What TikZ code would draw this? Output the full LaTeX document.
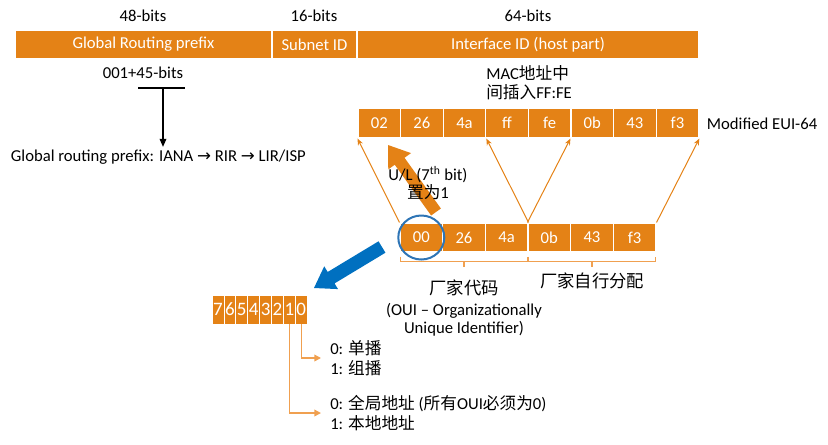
\documentclass[tikz,border=0pt]{standalone}
\usepackage{fontspec}
\setmainfont{Carlito}
\newfontfamily\cjk{Noto Sans CJK SC}
\newfontfamily\sym{DejaVu Sans}
\usetikzlibrary{arrows.meta,calc}
\definecolor{org}{RGB}{228,130,22}
\definecolor{lorg}{RGB}{240,160,80}
\definecolor{blu}{RGB}{0,112,192}
\definecolor{cblu}{RGB}{46,117,182}
\begin{document}
\begin{tikzpicture}[x=0.75pt,y=-0.75pt,
  txt/.style={font=\fontsize{12.5}{15}\selectfont,inner sep=2pt},
  cell/.style 2 args={minimum width=#1*0.75pt,minimum height=#2*0.75pt},
  obox/.style={fill=org,draw=white,line width=0.8pt,text=white,inner sep=0pt,font=\fontsize{12.5}{14}\selectfont},
  bbox/.style={fill=org,draw=white,line width=0.6pt,text=white,inner sep=0pt,font=\fontsize{14.25}{16}\selectfont,cell={11.9}{29}},
  thin/.style={draw=org,line width=0.75pt,-{Stealth[length=5pt,width=4pt]}},
  brc/.style={draw=lorg,line width=0.9pt},
  bitln/.style={draw=lorg,line width=1.1pt,-{Triangle[length=5pt,width=5pt]}},
  big/.style={font=\fontsize{13}{15}\selectfont,inner sep=1pt}]
\useasboundingbox (0,0) rectangle (828,444);

% top bar
\node[obox,cell={257}{29}] (grp) at (143.5,44.5) {Global Routing prefix};
\node[obox,cell={85}{29}] (sub) at (314.5,44.5) {Subnet ID};
\node[obox,cell={342}{29}] (iid) at (528,44.5) {Interface ID (host part)};
\node[txt] (l48) at (143,16) {48-bits};
\node[txt] (l16) at (314,16) {16-bits};
\node[txt] (l64) at (528,16) {64-bits};

% global routing prefix
\node[txt] (p45) at (143,73) {001+45-bits};
\coordinate (ula) at (138,88);
\coordinate (ulb) at (185,88);
\draw[line width=1.6pt] (ula) -- (ulb);
\coordinate (ulm) at (163,88);
\node[txt,anchor=west] (grt) at (8,157) {Global routing prefix: IANA {\sym →} RIR {\sym →} LIR/ISP};
\draw[line width=1pt,-{Triangle[length=6pt,width=5pt]}] (ulm) -- (ulm |- grt.north);

% MAC note
\node[txt,anchor=west,align=left,inner sep=0pt] (mac) at (486,82.5) {MAC{\cjk 地址中}\\[-1.2pt]{\cjk 间插入}FF:FE};

% EUI-64 boxes
\foreach \t [count=\i from 0] in {02,26,4a,ff,fe,0b,43,f3}
  \node[obox,cell={42.6}{30}] (e\i) at ({379.3+42.6*\i},123) {\t};
\node[txt,anchor=west] (eui) at (704,123.5) {Modified EUI-64};

% MAC boxes
\foreach \t [count=\i from 0] in {00,26,4a,0b,43,f3}
  \node[obox,cell={42.67}{29}] (m\i) at ({421.3+42.67*\i},237.5) {\t};

% mapping lines
\draw[thin] (m0.north west) -- (e0.south west);
\draw[thin] (m2.north east) -- (e2.south east);
\draw[thin] (m3.north west) -- (e5.south west);
\draw[thin] (m5.north east) -- (e7.south east);

% thick orange arrow
\coordinate (oa) at (436,212);
\coordinate (ob) at (388,145);
\coordinate (oc) at ($(ob)!15pt!(oa)$);
\fill[org] ($(oa)!4.5pt!90:(ob)$) -- ($(oc)!4.5pt!90:(ob)$) -- ($(oc)!10.5pt!90:(ob)$) -- (ob)
  -- ($(oc)!10.5pt!-90:(ob)$) -- ($(oc)!4.5pt!-90:(ob)$) -- ($(oa)!4.5pt!-90:(ob)$) -- cycle;
\node[txt,align=center,inner sep=0pt] (ul) at (428,183) {U/L (7\textsuperscript{th} bit)\\[-1.2pt]{\cjk 置为}1};

% blue circle
\draw[cblu,line width=1.5pt] (m0.center) ellipse [x radius=17.25pt,y radius=16.5pt];

% braces
\draw[brc] ($(m0.south west)+(1,4)$) -- ++(0,5) -- ($(m2.south east)+(-1,9)$) -- ++(0,-5);
\draw[brc] ($(m0.south west)!0.5!(m2.south east)+(0,9)$) -- ++(0,5);
\draw[brc] ($(m3.south west)+(1,4)$) -- ++(0,5) -- ($(m5.south east)+(-1,9)$) -- ++(0,-5);
\draw[brc] ($(m3.south west)!0.5!(m5.south east)+(0,9)$) -- ++(0,5);
\node[big] (oui) at (464,288) {\cjk 厂家代码};
\node[txt,align=center,inner sep=0pt] (ouie) at (464,320) {(OUI -- Organizationally\\[-1.2pt]Unique Identifier)};
\node[big] (self) at (592,281) {\cjk 厂家自行分配};

% blue arrow
\coordinate (ba) at (382,247);
\coordinate (bb) at (314,288);
\coordinate (bc) at ($(bb)!15pt!(ba)$);
\fill[blu] ($(ba)!5pt!90:(bb)$) -- ($(bc)!5pt!90:(bb)$) -- ($(bc)!10pt!90:(bb)$) -- (bb)
  -- ($(bc)!10pt!-90:(bb)$) -- ($(bc)!5pt!-90:(bb)$) -- ($(ba)!5pt!-90:(bb)$) -- cycle;

% bit boxes
\foreach \t [count=\i from 0] in {7,6,5,4,3,2,1,0}
  \node[bbox] (b\i) at ({218+11.9*\i},309.5) {\t};

% bit explanations
\node[txt,anchor=west,align=left,inner sep=0pt] (mc) at (330,358) {0: {\cjk 单播}\\[0pt]1: {\cjk 组播}};
\node[txt,anchor=west,align=left,inner sep=0pt] (gl) at (330,413) {0: {\cjk 全局地址} ({\cjk 所有}OUI{\cjk 必须为}0)\\[0pt]1: {\cjk 本地地址}};
\draw[bitln] (b7.south) |- ($(mc.west)+(-9,0)$);
\draw[bitln] (b6.south) |- ($(gl.west)+(-9,0)$);
\end{tikzpicture}
\end{document}
